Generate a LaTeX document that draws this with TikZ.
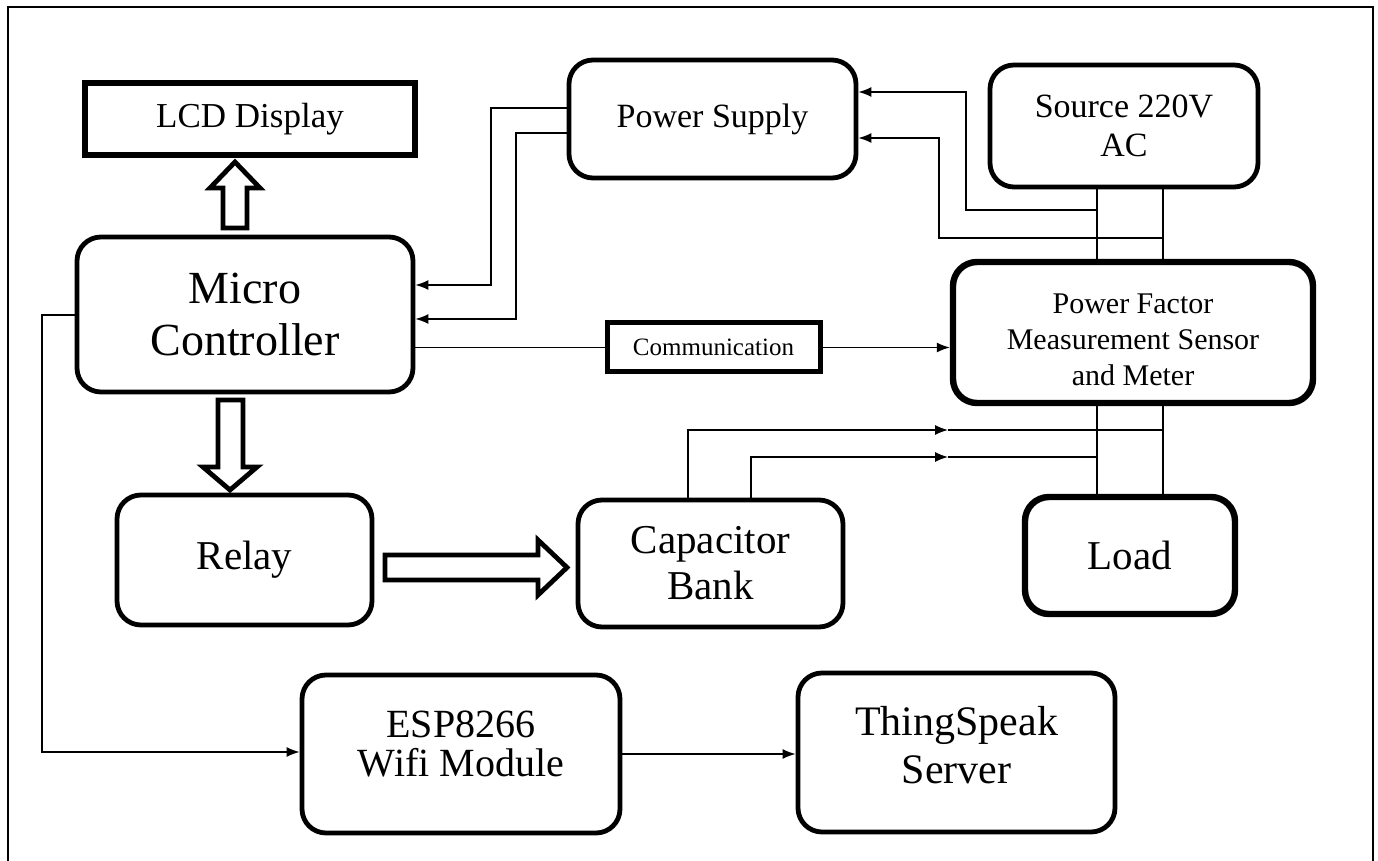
\documentclass[tikz,border=0pt]{standalone}
\usepackage{fontspec}
\setmainfont{Liberation Serif}
\usetikzlibrary{arrows.meta, calc}

\tikzset{
  blk/.style={draw, line width=2.4pt, rounded corners=12pt, align=center},
  sqblk/.style={draw, line width=3pt, align=center},
  wire/.style={line width=0.7pt},
  fatarrow/.style={draw, line width=2.4pt, line join=miter},
  txtbig/.style={font=\fontsize{23pt}{26pt}\selectfont},
  txtmid/.style={font=\fontsize{20.5pt}{23pt}\selectfont},
  txtsmall/.style={font=\fontsize{17pt}{19.5pt}\selectfont},
}

\begin{document}
\begin{tikzpicture}[x=0.5pt, y=-0.5pt, >={Latex[length=6.5pt,width=5pt]}]
  \useasboundingbox (0,0) rectangle (1378,861);
  % Frame
  \draw[line width=1.2pt] (8,868) -- (8,7) -- (1373,7) -- (1373,868);

  % Blocks
  \node[sqblk, minimum width=165pt, minimum height=36pt, font=\fontsize{17.5pt}{20pt}\selectfont] (lcd) at (250,119) {LCD Display};
  \node[blk, txtsmall, minimum width=143.5pt, minimum height=59pt] (ps) at (712.5,119) {Power Supply};
  \node[blk, txtsmall, minimum width=134pt, minimum height=61pt] (src) at (1124,126) {Source 220V\\AC};
  \node[blk, txtbig, minimum width=168pt, minimum height=77.5pt] (mc) at (245,314.5) {Micro\\Controller};
  \node[blk, line width=3.2pt, minimum width=180pt, minimum height=70.5pt,
        label={[font=\fontsize{15pt}{18pt}\selectfont, align=center, yshift=-3.75pt]center:Power Factor\\Measurement Sensor\\and Meter}] (pfm) at (1133,332.5) {};
  \node[sqblk, line width=2.5pt, minimum width=106.5pt, minimum height=24.5pt, font=\fontsize{12.5pt}{15pt}\selectfont] (comm) at (713.5,347.5) {Communication};
  \node[blk, txtmid, minimum width=127.5pt, minimum height=65pt] (relay) at (244.5,560) {Relay};
  \node[blk, txtmid, minimum width=132.5pt, minimum height=63.5pt] (cap) at (710.5,563.5) {Capacitor\\Bank};
  \node[blk, txtmid, line width=3.2pt, minimum width=105pt, minimum height=58.5pt] (load) at (1130,555.5) {Load};
  \node[blk, minimum width=159pt, minimum height=79pt,
        label={[font=\fontsize{20pt}{19.5pt}\selectfont, align=center, yshift=5pt]center:ESP8266\\Wifi Module}] (esp) at (461,754) {};
  \node[blk, minimum width=158.5pt, minimum height=79.5pt,
        label={[font=\fontsize{21pt}{24pt}\selectfont, align=center, yshift=3.5pt]center:ThingSpeak\\Server}] (ts) at (956.5,752.5) {};

  % Mains lines
  \coordinate (la) at (1097,0);
  \coordinate (lb) at (1163,0);
  \draw[wire] (src.south -| la) -- (pfm.north -| la);
  \draw[wire] (src.south -| lb) -- (pfm.north -| lb);
  \draw[wire] (pfm.south -| la) -- (load.north -| la);
  \draw[wire] (pfm.south -| lb) -- (load.north -| lb);

  % Supply feeds
  \draw[wire, ->] (la |- 0,210) -| (966,92) -- (ps.east |- 0,92);
  \draw[wire, ->] (lb |- 0,238) -| (939,138) -- (ps.east |- 0,138);
  \draw[wire, ->] (ps.west |- 0,108) -| (491,285) -- (mc.east |- 0,285);
  \draw[wire, ->] (ps.west |- 0,133) -| (516,319) -- (mc.east |- 0,319);

  % Data links
  \draw[wire] (mc.east |- comm) -- (comm.west);
  \draw[wire, ->] (comm.east) -- (pfm.west |- comm);
  \draw[wire, ->] (mc.west |- 0,315) -| (42,752) -- (esp.west |- 0,752);
  \draw[wire, ->] (esp.east |- 0,754) -- (ts.west |- 0,754);

  % Capacitor taps
  \draw[wire, ->] (cap.north -| 688,0) |- (948,430);
  \draw[wire] (948,430) -- (lb |- 0,430);
  \draw[wire, ->] (cap.north -| 751,0) |- (948,457);
  \draw[wire] (948,457) -- (la |- 0,457);

  % Block arrows
  \draw[fatarrow] (223,228) -- (223,188) -- (210,188) -- (235,162) -- (260,188) -- (247,188) -- (247,228) -- cycle;
  \draw[fatarrow] (218,400) -- (218,467) -- (203,467) -- (230,490) -- (257,467) -- (243,467) -- (243,400) -- cycle;
  \draw[fatarrow] (385,555) -- (538,555) -- (538,540) -- (567,567.5) -- (538,595) -- (538,580) -- (385,580) -- cycle;
\end{tikzpicture}
\end{document}
